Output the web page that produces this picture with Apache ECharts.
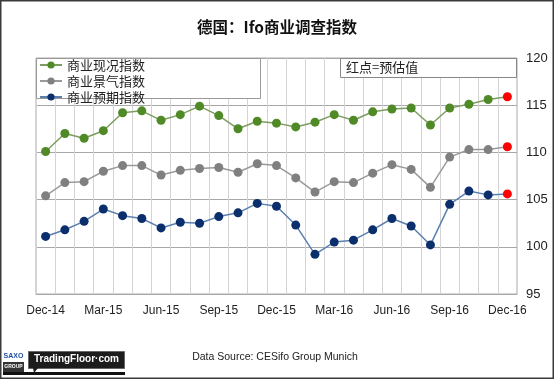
<!DOCTYPE html>
<html>
<head>
<meta charset="utf-8">
<script src="https://cdn.jsdelivr.net/npm/echarts@6/dist/echarts.min.js"></script>
<style>
html,body{margin:0;padding:0;background:#fff;}
#c{width:554px;height:379px;}
</style>
</head>
<body>
<div id="c"></div>
<script>
var categories = ['Dec-14','Jan-15','Feb-15','Mar-15','Apr-15','May-15','Jun-15','Jul-15','Aug-15','Sep-15','Oct-15','Nov-15','Dec-15','Jan-16','Feb-16','Mar-16','Apr-16','May-16','Jun-16','Jul-16','Aug-16','Sep-16','Oct-16','Nov-16','Dec-16'];
var currentIdx = [110.1,112.0,111.5,112.3,114.2,114.4,113.4,114.0,114.9,113.9,112.5,113.3,113.1,112.7,113.2,114.0,113.4,114.3,114.6,114.7,112.9,114.7,115.1,115.6,115.9];
var climateIdx = [105.4,106.8,106.9,108.0,108.6,108.6,107.6,108.1,108.3,108.4,107.9,108.8,108.6,107.3,105.8,106.9,106.8,107.8,108.7,108.2,106.3,109.5,110.3,110.3,110.6];
var expectIdx  = [101.1,101.8,102.7,104.0,103.3,103.0,102.0,102.6,102.5,103.2,103.6,104.6,104.3,102.3,99.2,100.5,100.7,101.8,103.0,102.2,100.2,104.5,105.9,105.5,105.6];
var seriesNames = ['商业现况指数','商业景气指数','商业预期指数'];
var yTicks = {min:95, max:120, interval:5};
var estimatedIdx = [24];

function withEstimates(arr){
  return arr.map(function(v,i){
    if (estimatedIdx.indexOf(i) >= 0) return {value:v, itemStyle:{color:'#ff0000'}};
    return v;
  });
}

var chart = echarts.init(document.getElementById('c'));
var cjk = "'Noto Sans CJK SC', sans-serif";
var lat = "'Liberation Sans', 'DejaVu Sans', sans-serif";

chart.setOption({
  animation:false,
  backgroundColor:'#fff',
  title:{
    text:'德国：Ifo商业调查指数',
    left:'center', top:14,
    textStyle:{fontFamily:cjk, fontSize:15.5, fontWeight:'bold', color:'#111'}
  },
  grid:{left:36, right:37, top:58, bottom:85, show:true, borderColor:'#aaa', borderWidth:1},
  legend:{
    data:seriesNames,
    orient:'vertical', left:39, top:58,
    itemGap:2, itemWidth:22, itemHeight:9,
    padding:0,
    textStyle:{fontFamily:cjk, fontSize:13, color:'#222', lineHeight:14},
    z:6
  },
  xAxis:{
    type:'category', data:categories, boundaryGap:true,
    axisLine:{show:true, lineStyle:{color:'#aaa'}},
    axisTick:{show:false},
    axisLabel:{interval:2, margin:11, fontFamily:lat, fontSize:12, color:'#222'},
    splitLine:{show:true, interval:0, lineStyle:{color:'#d4d4d4', width:1}}
  },
  yAxis:{
    type:'value', position:'right', min:yTicks.min, max:yTicks.max, interval:yTicks.interval,
    axisLine:{show:false}, axisTick:{show:false},
    axisLabel:{margin:9, fontFamily:lat, fontSize:13, color:'#222'},
    splitLine:{lineStyle:{color:'#a8a8a8', width:1}}
  },
  graphic:[
    {type:'rect', z:5, shape:{x:36.5, y:58.5, width:224, height:40}, style:{fill:'#fff', stroke:'#999', lineWidth:1}},
    {type:'rect', z:5, shape:{x:340.5, y:58.5, width:176, height:19}, style:{fill:'#fff', stroke:'#888', lineWidth:1}},
    {type:'text', z:6, x:346, y:61, style:{text:'红点=预估值', font:"13px 'Noto Sans CJK SC'", fill:'#222'}},
    {type:'text', z:6, x:275, y:352, style:{text:'Data Source: CESifo Group Munich', font:"10.5px 'Liberation Sans'", fill:'#222', align:'center'}},
    // logo
    {type:'rect', z:6, shape:{x:3, y:372, width:122, height:3}, style:{fill:'#111'}},
    {type:'rect', z:6, shape:{x:28.5, y:351.5, width:96, height:17}, style:{fill:'#1c1c1c', stroke:'#666', lineWidth:1}},
    {type:'polygon', z:6, shape:{points:[[33,368],[38,368],[34,373]]}, style:{fill:'#1c1c1c'}},
    {type:'text', z:7, x:76.5, y:354.5, style:{text:'TradingFloor·com', font:"bold 10px 'Liberation Sans'", fill:'#fff', align:'center'}},
    {type:'rect', z:6, shape:{x:3, y:352, width:21, height:10}, style:{fill:'#fff'}},
    {type:'rect', z:6, shape:{x:3, y:362, width:21, height:10}, style:{fill:'#333'}},
    {type:'text', z:7, x:13.5, y:353, style:{text:'SAXO', font:"bold 7px 'Liberation Sans'", fill:'#1e4fa0', align:'center'}},
    {type:'text', z:7, x:13.5, y:364, style:{text:'GROUP', font:"bold 5px 'Liberation Sans'", fill:'#fff', align:'center'}},
    // outer border
    {type:'rect', z:10, shape:{x:0.75, y:0.75, width:552.5, height:377.5}, style:{fill:'none', stroke:'#3a3a3a', lineWidth:1.5}}
  ],
  series:[
    {name:seriesNames[0], type:'line', data:withEstimates(currentIdx), symbol:'circle', symbolSize:9,
     itemStyle:{color:'#4f8a26'}, lineStyle:{color:'#7d9d60', width:1.5}, z:3},
    {name:seriesNames[1], type:'line', data:withEstimates(climateIdx), symbol:'circle', symbolSize:9,
     itemStyle:{color:'#808080'}, lineStyle:{color:'#9a9a9a', width:1.5}, z:3},
    {name:seriesNames[2], type:'line', data:withEstimates(expectIdx), symbol:'circle', symbolSize:9,
     itemStyle:{color:'#0b2e6c'}, lineStyle:{color:'#5b7fae', width:1.5}, z:3}
  ]
});
</script>
</body>
</html>
